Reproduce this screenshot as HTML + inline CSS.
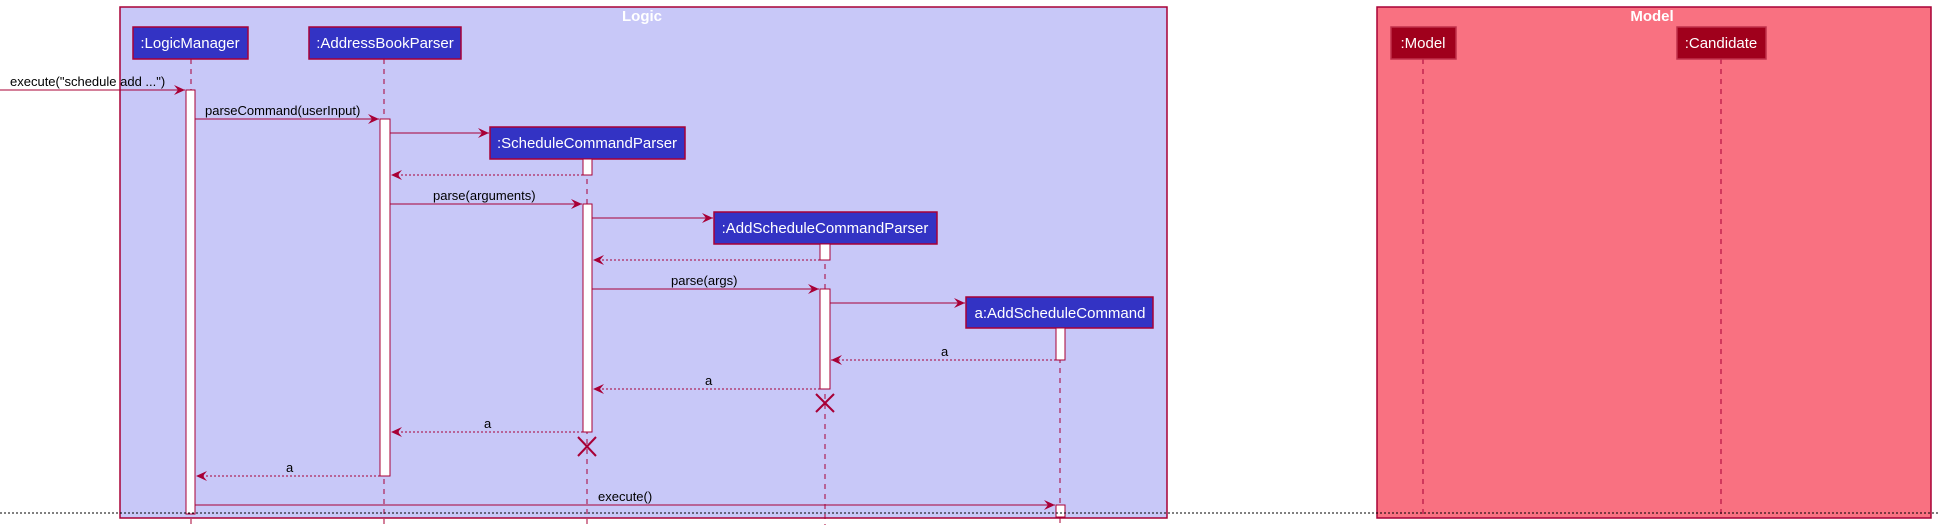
<!DOCTYPE html>
<html><head><meta charset="utf-8"><style>
html,body{margin:0;padding:0;background:#fff;}
svg{display:block;}
text{font-family:"Liberation Sans",sans-serif;}
</style></head><body>
<svg width="1938" height="530" viewBox="0 0 1938 530" xmlns="http://www.w3.org/2000/svg">
<defs>
<marker id="ah" markerWidth="12" markerHeight="10" refX="11" refY="5" orient="auto" markerUnits="userSpaceOnUse">
<path d="M0,0 L11,5 L0,10 L4,5 Z" fill="#A80036"/>
</marker>
</defs>
<!-- frames -->
<rect x="120" y="7" width="1047" height="511" fill="#C8C8F8" stroke="#A80036" stroke-width="1.5"/>
<text x="642" y="21" font-size="15" font-weight="bold" fill="#fff" text-anchor="middle">Logic</text>
<rect x="1377" y="7" width="554" height="511" fill="#F97181" stroke="#A80036" stroke-width="1.5"/>
<text x="1652" y="21" font-size="15" font-weight="bold" fill="#fff" text-anchor="middle">Model</text>

<!-- lifelines -->
<g stroke="#A80036" stroke-width="1" stroke-dasharray="5,5">
<line x1="191" y1="59" x2="191" y2="525"/>
<line x1="384" y1="59" x2="384" y2="525"/>
<line x1="587" y1="159" x2="587" y2="525"/>
<line x1="825" y1="244" x2="825" y2="525"/>
<line x1="1060" y1="328" x2="1060" y2="525"/>
<line x1="1423" y1="59" x2="1423" y2="518"/>
<line x1="1721" y1="59" x2="1721" y2="518"/>
</g>

<!-- participants -->
<g stroke="#A80036" stroke-width="1.5">
<rect x="133" y="27" width="115" height="32" fill="#3333C4"/>
<rect x="309" y="27" width="152" height="32" fill="#3333C4"/>
<rect x="490" y="127" width="195" height="32" fill="#3333C4"/>
<rect x="714" y="212" width="223" height="32" fill="#3333C4"/>
<rect x="966" y="297" width="187" height="31" fill="#3333C4"/>
<rect x="1391" y="27" width="65" height="32" fill="#A0001C" stroke="#C0304A"/>
<rect x="1677" y="27" width="89" height="32" fill="#A0001C" stroke="#C0304A"/>
</g>
<g font-size="15" fill="#fff" text-anchor="middle">
<text x="190" y="48">:LogicManager</text>
<text x="385" y="48">:AddressBookParser</text>
<text x="587" y="148">:ScheduleCommandParser</text>
<text x="825" y="233">:AddScheduleCommandParser</text>
<text x="1060" y="318">a:AddScheduleCommand</text>
<text x="1423" y="48">:Model</text>
<text x="1721" y="48">:Candidate</text>
</g>

<!-- activations -->
<g fill="#fff" stroke="#A80036" stroke-width="1">
<rect x="186" y="90" width="9" height="424"/>
<rect x="380" y="119" width="10" height="357"/>
<rect x="583" y="159" width="9" height="16"/>
<rect x="583" y="204" width="9" height="228"/>
<rect x="820" y="244" width="10" height="16"/>
<rect x="820" y="289" width="10" height="100"/>
<rect x="1056" y="328" width="9" height="32"/>
<rect x="1056" y="505" width="9" height="12"/>
</g>

<!-- messages -->
<g stroke="#A80036" stroke-width="1" fill="none" marker-end="url(#ah)">
<line x1="0" y1="90" x2="185" y2="90"/>
<line x1="195" y1="119" x2="379" y2="119"/>
<line x1="390" y1="133" x2="489" y2="133"/>
<line x1="390" y1="204" x2="582" y2="204"/>
<line x1="592" y1="218" x2="713" y2="218"/>
<line x1="592" y1="289" x2="819" y2="289"/>
<line x1="830" y1="303" x2="965" y2="303"/>
<line x1="195" y1="505" x2="1055" y2="505"/>
</g>
<g stroke="#A80036" stroke-width="1" fill="none" stroke-dasharray="2,2" marker-end="url(#ah)">
<line x1="583" y1="175" x2="391" y2="175"/>
<line x1="820" y1="260" x2="593" y2="260"/>
<line x1="1056" y1="360" x2="831" y2="360"/>
<line x1="820" y1="389" x2="593" y2="389"/>
<line x1="583" y1="432" x2="391" y2="432"/>
<line x1="380" y1="476" x2="196" y2="476"/>
</g>

<!-- destroy X -->
<g stroke="#A80036" stroke-width="2">
<line x1="816" y1="394" x2="834" y2="412"/><line x1="834" y1="394" x2="816" y2="412"/>
<line x1="578" y1="437" x2="596" y2="456"/><line x1="596" y1="437" x2="578" y2="456"/>
</g>

<!-- labels -->
<g font-size="13" fill="#000">
<text x="10" y="86">execute("schedule add ...")</text>
<text x="205" y="115">parseCommand(userInput)</text>
<text x="433" y="200">parse(arguments)</text>
<text x="671" y="285">parse(args)</text>
<text x="941" y="356">a</text>
<text x="705" y="385">a</text>
<text x="484" y="428">a</text>
<text x="286" y="472">a</text>
<text x="598" y="501">execute()</text>
</g>

<line x1="0" y1="513" x2="1938" y2="513" stroke="#000" stroke-width="1" stroke-dasharray="2,2"/>
</svg>
</body></html>
